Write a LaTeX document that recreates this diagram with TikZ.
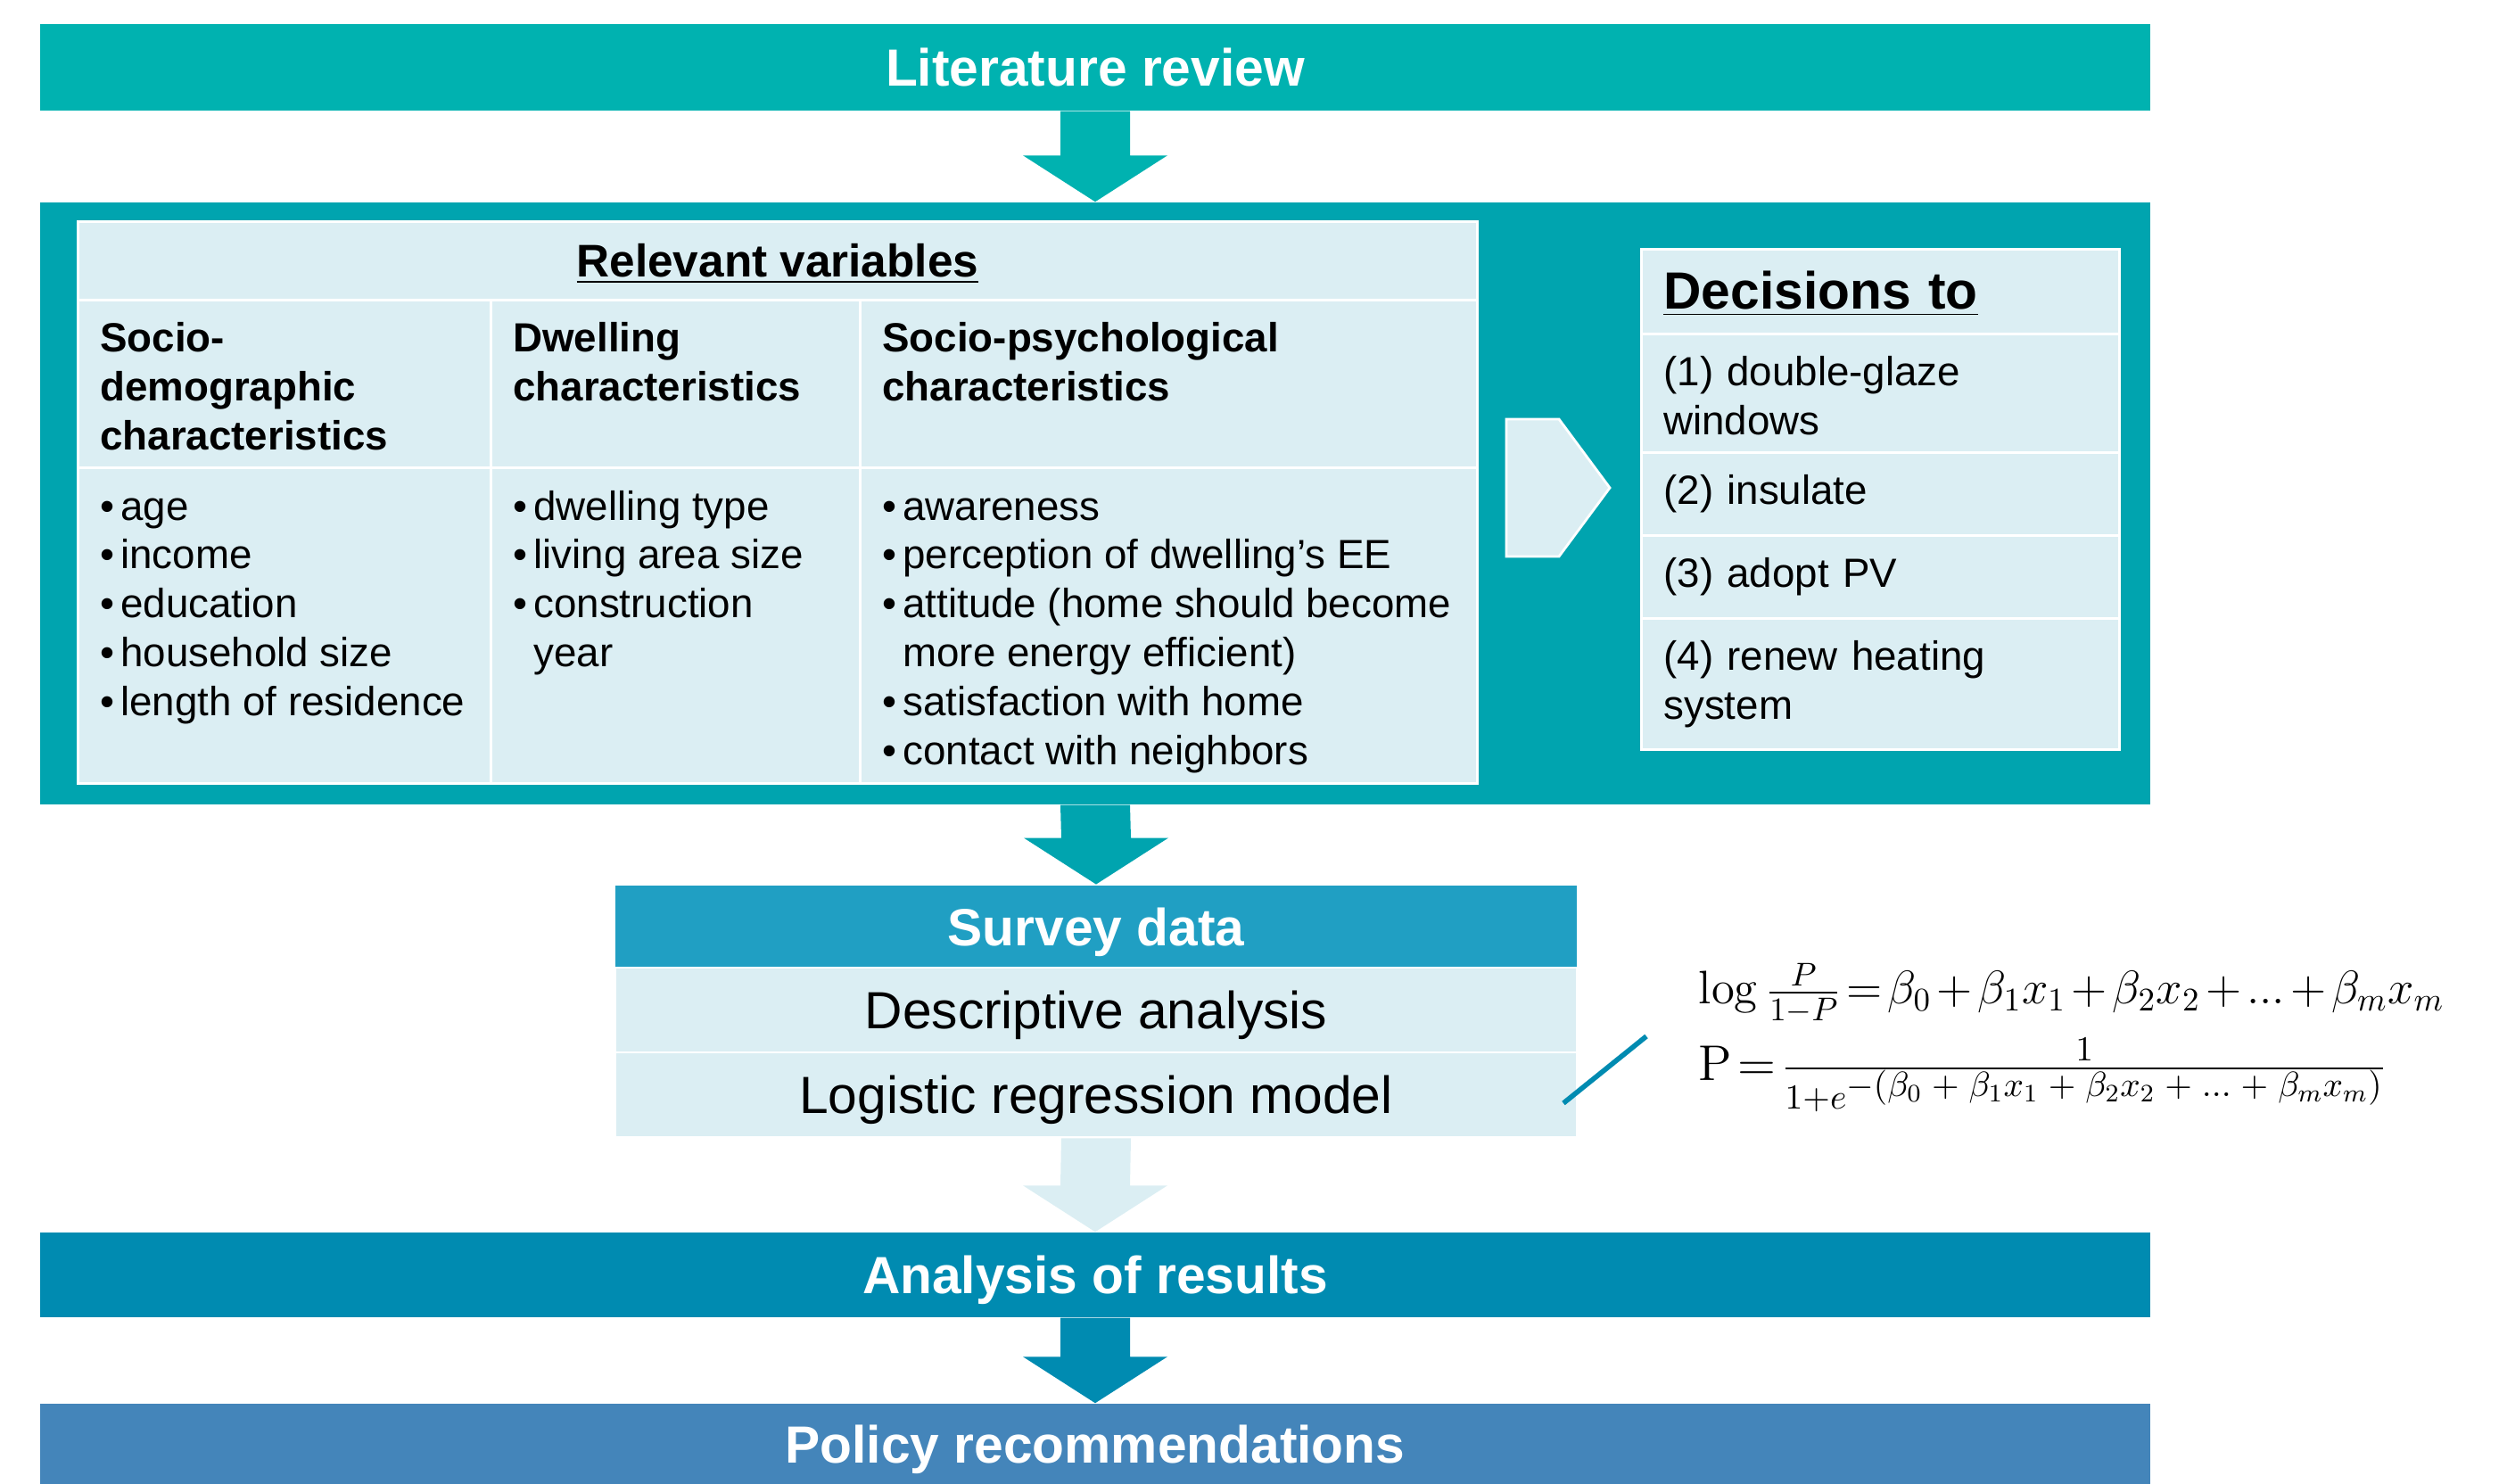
\documentclass[tikz,border=0pt]{standalone}
\usepackage{fix-cm}
\usepackage[no-math]{fontspec}
\setmainfont{Liberation Sans}
\usetikzlibrary{calc}

\definecolor{litcol}{RGB}{0,178,176}
\definecolor{panelcol}{RGB}{0,164,175}
\definecolor{surveycol}{RGB}{32,159,195}
\definecolor{analysiscol}{RGB}{0,139,177}
\definecolor{policycol}{RGB}{68,133,186}
\definecolor{cellcol}{RGB}{219,238,243}

\newcommand{\cellbox}[3]{\begin{minipage}[t][\dimexpr#2cm-0.5cm\relax][t]{\dimexpr#1cm-0.5cm\relax}\raggedright#3\end{minipage}}
\newcommand{\bitem}{\par\hangindent=0.23cm\hangafter=1\noindent\makebox[0.23cm][l]{\textbullet}\rule{0pt}{9.6pt}}
\newcommand{\tightmath}{\thickmuskip=2mu\relax\medmuskip=2mu\relax}
\newcommand{\tdots}{\mathinner{\ldotp\!\ldotp\!\ldotp}}
\newcommand{\pl}{\mskip5mu+\mskip5mu}
\newcommand{\blockarrow}[3]{%
  \fill[#3] ($(#1.south)+(-0.39,0)$) -- ($(#1.south)+(0.39,0)$)
    -- ($(#2.north)+(0.39,0.52)$) -- ($(#2.north)+(0.81,0.52)$) -- (#2.north)
    -- ($(#2.north)+(-0.81,0.52)$) -- ($(#2.north)+(-0.39,0.52)$) -- cycle;}

\begin{document}
\begin{tikzpicture}[
        bar/.style={rectangle,inner sep=0pt,minimum width=23.66cm,text height=12pt,text depth=0pt,text=white,font=\fontsize{16.7}{20}\selectfont\bfseries},
        cell/.style={rectangle,draw=white,line width=0.8pt,fill=cellcol,inner xsep=0.25cm,inner ysep=0.25cm,anchor=north west,font=\fontsize{13}{15.6}\selectfont},
        dec/.style={cell,text width=4.86cm,align=left},
        srow/.style={rectangle,draw=white,line width=0.8pt,fill=cellcol,inner sep=0pt,minimum width=10.78cm,minimum height=0.95cm,text height=12pt,text depth=0pt,font=\fontsize{16.7}{20}\selectfont},
        formula/.style={anchor=base west,inner sep=0pt,font=\fontsize{15}{18}\selectfont}
      ]
      \useasboundingbox (0,0) rectangle (28.11,-16.64);
      \node[bar,fill=litcol,minimum height=0.97cm] (lit) at (12.28,-0.755) {Literature review};
      \node[rectangle,fill=panelcol,minimum width=23.66cm,minimum height=6.75cm] (panel) at (12.28,-5.645) {};

      \node[cell,minimum width=15.69cm,minimum height=0.88cm,font=\fontsize{14.6}{17}\selectfont\bfseries] (varhead) at (0.86,-2.47) {\underline{Relevant variables}};
      \node[cell,font=\fontsize{13}{15.6}\selectfont\bfseries] (colA) at (0.86,-3.35) {\cellbox{4.63}{1.88}{Socio-\newline demographic\newline characteristics}};
      \node[cell,font=\fontsize{13}{15.6}\selectfont\bfseries] (colB) at (5.49,-3.35) {\cellbox{4.14}{1.88}{Dwelling\newline characteristics}};
      \node[cell,font=\fontsize{13}{15.6}\selectfont\bfseries] (colC) at (9.63,-3.35) {\cellbox{6.92}{1.88}{Socio-psychological\newline characteristics}};
      \node[cell] (bodyA) at (0.86,-5.23) {\cellbox{4.63}{3.54}{\bitem age\bitem income\bitem education\bitem household size\bitem length of residence}};
      \node[cell] (bodyB) at (5.49,-5.23) {\cellbox{4.14}{3.54}{\bitem dwelling type\bitem living area size\bitem construction\newline year}};
      \node[cell] (bodyC) at (9.63,-5.23) {\cellbox{6.92}{3.54}{\bitem awareness\bitem perception of dwelling’s EE\bitem attitude (home should become\newline more energy efficient)\bitem satisfaction with home\bitem contact with neighbors}};

      \draw[white,line width=0.8pt,fill=cellcol] (16.89,-4.70) -- (17.48,-4.70) -- (18.05,-5.47) -- (17.48,-6.24) -- (16.89,-6.24) -- cycle;

      \node[dec,minimum height=0.95cm,font=\fontsize{16.7}{20}\selectfont\bfseries] (dechead) at (18.39,-2.78) {\underline{Decisions to}};
      \node[dec,minimum height=1.33cm] (dec1) at (18.39,-3.73) {(1) double-glaze\\windows};
      \node[dec,minimum height=0.93cm] (dec2) at (18.39,-5.06) {(2) insulate};
      \node[dec,minimum height=0.93cm] (dec3) at (18.39,-5.99) {(3) adopt PV};
      \node[dec,minimum height=1.34cm] (dec4) at (18.39,-6.92) {(4) renew heating\\system};

      \node[srow,fill=surveycol,draw=none,minimum height=0.92cm,text=white,font=\fontsize{16.7}{20}\selectfont\bfseries] (survey) at (12.29,-10.39) {Survey data};
      \node[srow] (desc) at (12.29,-11.325) {Descriptive analysis};
      \node[srow] (logit) at (12.29,-12.275) {Logistic regression model};

      \node[formula] (logitf) at (19.04,-11.26) {$\tightmath\log\frac{P}{1-P}=\beta_0+\beta_1x_1+\beta_2x_2+\tdots+\beta_mx_m$};
      \node[formula,font=\fontsize{16}{19}\selectfont] (probf) at (19.04,-12.12) {$\tightmath\mathrm{P}=\frac{1}{1+e^{\scriptstyle-(\beta_0\pl\beta_1x_1\pl\beta_2x_2\pl\ldots\pl\beta_mx_m)}}$};
      \coordinate (linkstart) at (17.53,-12.37);
      \coordinate (linkend) at (18.46,-11.62);
      \draw[analysiscol,line width=1.6pt] (linkstart) -- (linkend);

      \node[bar,fill=analysiscol,minimum height=0.95cm] (analysis) at (12.28,-14.295) {Analysis of results};
      \node[bar,fill=policycol,minimum height=0.90cm] (policy) at (12.28,-16.19) {Policy recommendations};

      \blockarrow{lit}{panel}{litcol}
      \blockarrow{panel}{survey}{panelcol}
      \blockarrow{logit}{analysis}{cellcol}
      \blockarrow{analysis}{policy}{analysiscol}
    \end{tikzpicture}
\end{document}
